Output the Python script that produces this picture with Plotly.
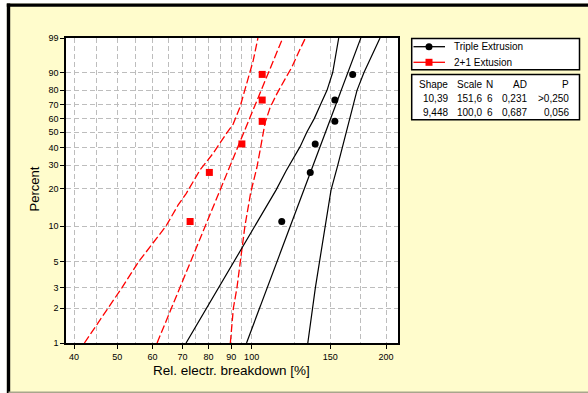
import numpy as np
import plotly.graph_objects as go

# ---------------- data ----------------
pct_points = [10.9, 26.6, 42.2, 57.8, 73.4, 89.1]
triple_x = [116.8, 135.3, 138.8, 153.6, 153.6, 168.4]
plus_x = [72.8, 80.4, 95.1, 105.6, 105.6, 105.6]

# fitted Weibull lines (end points read at 1 % and 99 %)
fit_pct = [1, 99]
triple_fit_x = [97.4, 175.6]
plus_fit_x = [61.4, 117.4]

# 95 % confidence bands
triple_lo_pct = [1, 2, 3, 5, 10, 19.5, 27.3, 40.5, 50, 60, 70, 80, 90, 99]
triple_lo_x = [71.3, 79.2, 84.3, 91.3, 101.8, 113.4, 119.4, 128.4, 132.9, 138.2, 142.6, 147.5, 151.9, 156.7]
triple_hi_pct = [1, 2, 3, 5, 10, 19.5, 30, 50, 70, 80, 90, 99]
triple_hi_x = [133.6, 136.6, 138.9, 141.9, 146.2, 150.6, 155.9, 162.7, 168.4, 172.2, 178.5, 193.9]

plus_lo_pct = [1, 2, 3, 5, 10, 14.8, 18.4, 27.7, 36.5, 49.4, 55.8, 68.0, 86.7, 94.6, 99]
plus_lo_x = [42.2, 47.7, 51.2, 55.8, 64.3, 68.4, 71.4, 76.6, 82.0, 87.9, 90.9, 94.1, 98.3, 100.8, 103.3]
plus_hi_pct = [1, 2, 3, 5, 10, 18.6, 22.2, 28.8, 37.9, 47.5, 56.9, 68.0, 77.5, 86.7, 92.2, 97.5, 99]
plus_hi_x = [89.6, 91.0, 92.7, 94.3, 96.6, 99.5, 100.8, 102.7, 104.4, 105.9, 107.2, 110.0, 113.8, 118.8,
             123.0, 128.4, 132.0]

series_names = ["Triple Extrusion", "2+1 Extusion"]

# axis ticks
x_ticks = [40, 50, 60, 70, 80, 90, 100, 150, 200]
x_minor = [45, 55, 65, 75, 85, 95, 125, 175]
y_ticks = [1, 2, 3, 5, 10, 20, 30, 40, 50, 60, 70, 80, 90, 99]

# statistics table
tbl_header = ["Shape", "Scale", "N", "AD", "P"]
tbl_shape = ["10,39", "9,448"]
tbl_scale = ["151,6", "100,0"]
tbl_n = ["6", "6"]
tbl_ad = ["0,231", "0,687"]
tbl_p = [">0,250", "0,056"]

# ---------------- helpers ----------------
W, H = 588, 393
ML, MR, MT, MB = 66, 190, 38, 50
PW, PH = W - ML - MR, H - MT - MB


def wb(p):
    """Weibull probability-paper transform of a percentage."""
    p = np.asarray(p, dtype=float) / 100.0
    return np.log(-np.log(1.0 - p))


def px2x(px):
    return (px - ML) / PW


def py2y(py):
    return 1 - (py - MT) / PH


FONT = "Liberation Sans, Arial, sans-serif"
RED = "#FF0000"
BLK = "#000000"

fig = go.Figure()

# red (2+1) bands and fit
for xs, ps in [(plus_lo_x, plus_lo_pct), (plus_hi_x, plus_hi_pct), (plus_fit_x, fit_pct)]:
    fig.add_trace(go.Scatter(x=xs, y=wb(ps), mode="lines", showlegend=False, hoverinfo="skip",
                             line=dict(color=RED, width=1.3, dash="8px,3px")))
# black (triple) bands and fit
for xs, ps in [(triple_lo_x, triple_lo_pct), (triple_hi_x, triple_hi_pct), (triple_fit_x, fit_pct)]:
    fig.add_trace(go.Scatter(x=xs, y=wb(ps), mode="lines", showlegend=False, hoverinfo="skip",
                             line=dict(color=BLK, width=1.2)))

fig.add_trace(go.Scatter(x=plus_x, y=wb(pct_points), mode="markers", name=series_names[1],
                         marker=dict(symbol="square", size=7, color=RED)))
fig.add_trace(go.Scatter(x=triple_x, y=wb(pct_points), mode="markers", name=series_names[0],
                         marker=dict(symbol="circle", size=7, color=BLK)))

GRID = "#BDBDBD"
fig.update_xaxes(
    type="log",
    range=[np.log10(40) - 8 / 446.4, np.log10(40) + 324 / 446.4],
    tickvals=x_ticks, ticktext=[str(v) for v in x_ticks],
    ticks="outside", ticklen=4, tickcolor=BLK, tickwidth=1,
    tickfont=dict(family=FONT, size=9, color=BLK),
    showgrid=True, gridcolor=GRID, griddash="5px,3px", gridwidth=1,
    minor=dict(tickvals=x_minor, showgrid=True, gridcolor=GRID, griddash="5px,3px", gridwidth=1, ticks=""),
    showline=True, linecolor=BLK, linewidth=1.5, mirror=True, zeroline=False,
)
fig.update_yaxes(
    range=[float(wb(1)), float(wb(99))],
    tickvals=wb(y_ticks), ticktext=[str(v) for v in y_ticks],
    ticks="outside", ticklen=4, tickcolor=BLK, tickwidth=1,
    tickfont=dict(family=FONT, size=9, color=BLK),
    showgrid=True, gridcolor=GRID, griddash="5px,3px", gridwidth=1,
    showline=True, linecolor=BLK, linewidth=1.5, mirror=True, zeroline=False,
)

YEL = "#FFFCCC"


def pbox(kind, x0, y0, x1, y1, **kw):
    return dict(type=kind, xref="paper", yref="paper", x0=px2x(x0), x1=px2x(x1),
                y0=py2y(y1), y1=py2y(y0), **kw)


def pline(x0, y0, x1, y1, **kw):
    return dict(type="line", xref="paper", yref="paper", x0=px2x(x0), x1=px2x(x1),
                y0=py2y(y0), y1=py2y(y1), **kw)


shapes = [
    # white strips outside the frame
    pbox("rect", -10, -10, 6.8, 400, fillcolor="white", line=dict(width=0)),
    pbox("rect", -10, -10, 600, 3.4, fillcolor="white", line=dict(width=0)),
    # frame lines
    pline(6.8, 5.1, 600, 5.1, line=dict(color=BLK, width=3.4)),
    pline(8.5, 3.4, 8.5, 400, line=dict(color=BLK, width=3.4)),
    pline(8.5, 392.3, 600, 392.3, line=dict(color="#A8A68C", width=1.5)),
    # legend box
    pbox("rect", 411.7, 38.5, 579.5, 69.8, fillcolor="white", line=dict(color=BLK, width=1.5)),
    # legend symbols
    pline(413.5, 46.7, 445, 46.7, line=dict(color=BLK, width=1.3)),
    pbox("circle", 425.5, 43.2, 432.5, 50.2, fillcolor=BLK, line=dict(color=BLK, width=0)),
    pline(413.5, 62.3, 445, 62.3, line=dict(color=RED, width=1.3)),
    pbox("rect", 425.5, 58.8, 432.5, 65.8, fillcolor=RED, line=dict(color=RED, width=0)),
    # statistics table box
    pbox("rect", 411.7, 74.5, 579.5, 119.8, fillcolor="white", line=dict(color=BLK, width=1.5)),
]

annotations = [
    dict(text="Rel. electr. breakdown [%]", xref="paper", yref="paper", x=px2x(231), y=py2y(370.7),
         showarrow=False, xanchor="center", yanchor="middle", font=dict(family=FONT, size=13.5, color=BLK)),
    dict(text="Percent", xref="paper", yref="paper", x=px2x(33.5), y=py2y(189), textangle=-90,
         showarrow=False, xanchor="center", yanchor="middle", font=dict(family=FONT, size=13, color=BLK)),
    dict(text=series_names[0], xref="paper", yref="paper", x=px2x(451.5), y=py2y(46.7),
         showarrow=False, xanchor="left", yanchor="middle", font=dict(family=FONT, size=10, color=BLK)),
    dict(text=series_names[1], xref="paper", yref="paper", x=px2x(451.5), y=py2y(62.3),
         showarrow=False, xanchor="left", yanchor="middle", font=dict(family=FONT, size=10, color=BLK)),
]
col_right = [450, 483.5, 494.5, 529, 571]
rows_y = [84, 98.8, 112.8]
table_rows = [tbl_header,
              [tbl_shape[0], tbl_scale[0], tbl_n[0], tbl_ad[0], tbl_p[0]],
              [tbl_shape[1], tbl_scale[1], tbl_n[1], tbl_ad[1], tbl_p[1]]]
for r, row in enumerate(table_rows):
    for c, txt in enumerate(row):
        annotations.append(dict(text=txt, xref="paper", yref="paper", x=px2x(col_right[c]), y=py2y(rows_y[r]),
                                showarrow=False, xanchor="right", yanchor="middle",
                                font=dict(family=FONT, size=10, color=BLK)))

fig.update_layout(
    width=W, height=H,
    margin=dict(l=ML, r=MR, t=MT, b=MB),
    paper_bgcolor=YEL, plot_bgcolor="white",
    shapes=shapes, annotations=annotations,
    showlegend=False,
    font=dict(family=FONT, color=BLK),
)

fig.write_html("out.html",
               config={"displayModeBar": False},
               post_script="document.body.style.margin='0';document.body.style.padding='0';"
                           "document.body.style.overflow='hidden';")
